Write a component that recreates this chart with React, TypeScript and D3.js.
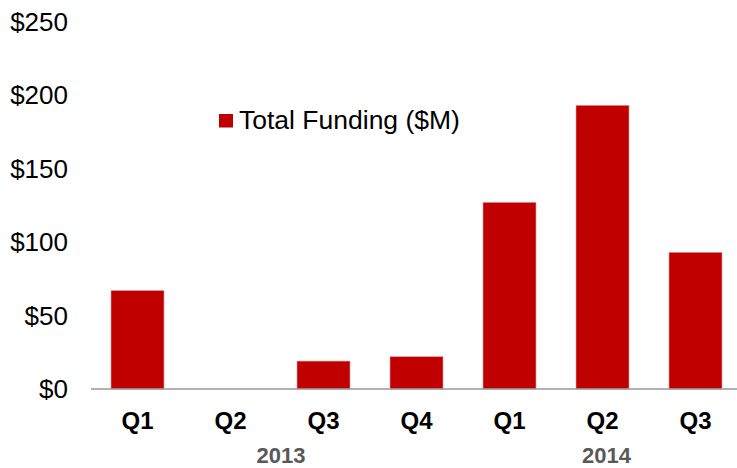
import React from "react";
import * as d3 from "d3";

const quarters = ["Q1", "Q2", "Q3", "Q4", "Q1", "Q2", "Q3"];
const years = ["2013", "2013", "2013", "2013", "2014", "2014", "2014"];
const funding = [67, 0, 19, 22, 127, 193, 93];
const yTicks = [0, 50, 100, 150, 200, 250];
const seriesName = "Total Funding ($M)";

const W = 737;
const H = 468;
const FONT = "'Liberation Sans', Arial, sans-serif";

export default function App() {
  const keys = funding.map((_, i) => String(i));
  const x = d3.scaleBand<string>().domain(keys).range([91, 742]).paddingInner(0.43).paddingOuter(0.215);
  const y = d3.scaleLinear().domain([0, 250]).range([389, 21.5]);
  const yearGroups = Array.from(new Set(years)).map((yr) => {
    const idx = years.map((v, i) => (v === yr ? i : -1)).filter((i) => i >= 0);
    const cx = d3.mean(idx, (i) => (x(String(i)) as number) + x.bandwidth() / 2) as number;
    return { yr, cx };
  });
  return (
    <svg width={W} height={H} style={{ position: "absolute", left: 0, top: 0, background: "#fff" }}>
      <g fontFamily={FONT}>
        {yTicks.map((t) => (
          <text key={t} x={68} y={y(t)} dy="0.35em" textAnchor="end" fontSize={26} fill="#000">
            {"$" + t}
          </text>
        ))}
        {funding.map((v, i) => (
          <rect
            key={i}
            x={x(String(i))}
            y={y(v)}
            width={x.bandwidth()}
            height={y(0) - y(v)}
            fill="#C00000"
            stroke="#e8a0a0"
            strokeWidth={0.6}
          />
        ))}
        <line x1={91} x2={W} y1={y(0)} y2={y(0)} stroke="#999" strokeWidth={1.5} />
        {quarters.map((q, i) => (
          <text
            key={i}
            x={(x(String(i)) as number) + x.bandwidth() / 2}
            y={429}
            textAnchor="middle"
            fontSize={24}
            fontWeight="bold"
            fill="#000"
          >
            {q}
          </text>
        ))}
        {yearGroups.map((g) => (
          <text key={g.yr} x={g.cx + 4} y={463} textAnchor="middle" fontSize={22} fontWeight="bold" fill="#595959">
            {g.yr}
          </text>
        ))}
        <rect x={219} y={114} width={14} height={13.5} fill="#C00000" />
        <text x={239} y={128.5} fontSize={26.5} fill="#000">
          {seriesName}
        </text>
      </g>
    </svg>
  );
}
